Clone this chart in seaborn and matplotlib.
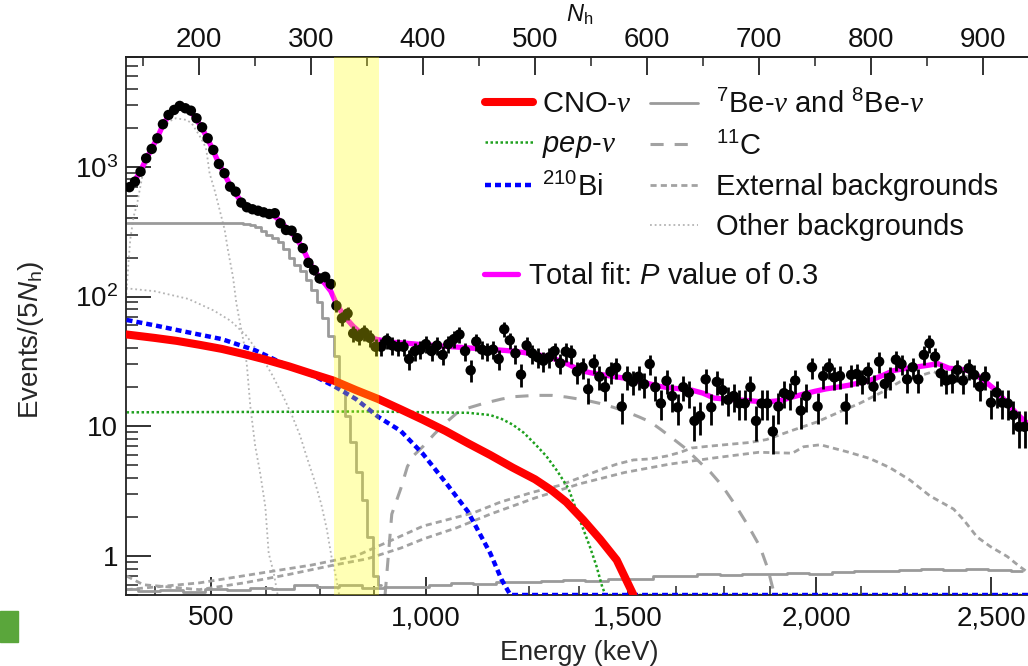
import numpy as np
import matplotlib
matplotlib.use("Agg")
import matplotlib.pyplot as plt
from matplotlib.lines import Line2D
from matplotlib.patches import Rectangle
from matplotlib.ticker import NullFormatter
import seaborn as sns

# ---------------------------------------------------------------------------
# Measured spectrum, events per 5 N_h bin (bin centres start at 137.5)
# ---------------------------------------------------------------------------
bin_start = 137.5
bin_width = 5.0
data_counts = [
    697, 769, 918, 1164, 1374, 1660, 2130, 2512, 2747, 2950,
    2830, 2711, 2370, 2018, 1660, 1350, 1052, 893, 703, 644,
    530, 488, 471, 459, 446, 433, 439, 367, 326, 322,
    282, 236, 182, 160, 138, 142, 125, 85, 68, 74,
    52, 49, 53, 48, 41, 41, 46, 42, 41, 41,
    33, 38, 39, 43, 38, 42, 35.5, 43, 47, 51,
    38, 27, 45, 39, 38, 39, 33, 56, 46, 36.5,
    25, 42, 36.5, 34, 32, 34, 38, 30.6, 37.6, 36.5,
    26.4, 28.5, 19.3, 30.6, 24.1, 20, 26.4, 28.3, 14.2, 24.1,
    22, 24.1, 21.1, 30.2, 20, 15, 22.4, 17.1, 14, 20,
    18.2, 11, 12, 23, 14, 22, 19, 16, 17.1, 15,
    15, 20, 11, 15, 15, 9.1, 14.2, 18, 17.4, 22.5,
    13.2, 17.1, 28.5, 14.2, 24.4, 28.5, 23.8, 24.4, 14.2, 24.9,
    25.3, 22.5, 26.4, 20.2, 31.5, 21.2, 23.8, 32.6, 30.2, 23,
    28.5, 23, 35.5, 43.6, 34.4, 25.6, 22.5, 23, 27.2, 22.5,
    28, 24.9, 20.2, 24.1, 15.2, 18.2, 15.2, 15, 12.2, 9.9,
    9.9,
]

# ---------------------------------------------------------------------------
# Fit components (N_h, events per 5 N_h)
# ---------------------------------------------------------------------------
total_nh = [137.5, 142.5, 147.5, 152.5, 157.5, 162.5, 167.5, 172.5, 177.5, 182.5,
            187.5, 192.5, 197.5, 202.5, 207.5, 212.5, 217.5, 222.5, 227.5, 232.5,
            237.5, 242.5, 247.5, 252.5, 257.5, 262.5, 267.5, 272.5, 277.5, 282.5,
            287.5, 292.5, 297.5, 302.5, 307.5, 312.5, 317.5, 322.5, 327.5, 332.5,
            337.5, 342.5, 347.5, 352.5, 357.5,
            370, 380, 390, 400, 410, 420, 430, 440, 450, 460, 470, 480, 490, 500,
            510, 520, 530, 540, 550, 560, 570, 580, 590, 600, 610, 620, 630, 640,
            650, 660, 670, 680, 690, 700, 710, 720, 730, 740, 750, 760, 770, 780,
            790, 800, 810, 820, 830, 840, 850, 860, 870, 880, 890, 900, 910, 920,
            930, 940]
total_fit = [700, 790, 930, 1150, 1380, 1680, 2100, 2480, 2760, 2900,
             2840, 2650, 2330, 1980, 1640, 1330, 1060, 880, 720, 620,
             540, 495, 470, 455, 445, 432, 415, 380, 340, 310,
             275, 235, 190, 160, 140, 125, 110, 88, 75, 66,
             59, 54, 51, 49, 47,
             44.5, 44, 43.3, 42.5, 42, 41.3, 40.8, 40.2, 39.7, 39.2, 38.6, 38, 37, 36,
             34.5, 32.5, 30, 27, 25.8, 25, 24.2, 23.5, 22.5, 21.5, 20.4, 19.8, 19.4, 19,
             18, 16.5, 16.2, 16, 15.8, 15.5, 15.5, 15.8, 16.8, 17.7, 18.6, 19.4, 20, 20.7,
             21.6, 22.7, 24.5, 26.8, 27.8, 28.6, 29.4, 30.4, 28, 27.6, 26.5, 23, 19.5, 15.8,
             12.6, 10.5]

cno_nh = [135, 160, 180, 200, 220, 240, 260, 280, 300, 320, 340, 360, 380,
          400, 420, 440, 460, 480, 500, 515, 528, 543, 558, 573, 582, 588]
cno_val = [51, 48, 45.5, 42.5, 39.5, 36, 32.5, 29, 25.5, 22.5, 19, 16.2, 13.5,
           11.2, 9.2, 7.4, 6.0, 4.8, 3.9, 3.2, 2.6, 1.9, 1.35, 0.93, 0.64, 0.5]

pep_nh = [135, 250, 350, 440, 460, 470, 480, 490, 500, 510, 520, 530, 540,
          549, 555, 560, 563, 945]
pep_val = [12.8, 12.9, 13.0, 12.7, 12.2, 11.4, 10.3, 8.9, 7.3, 5.9, 4.5, 3.3, 1.9,
           1.18, 0.83, 0.58, 0.5, 0.5]

bi_nh = [135, 160, 190, 220, 250, 280, 300, 320, 340, 360, 380, 400, 420,
         440, 460, 470, 478, 945]
bi_val = [66, 60, 53, 47, 38.5, 29, 25, 20.5, 16.2, 11.8, 9.2, 6.1, 3.7,
          2.2, 1.05, 0.66, 0.5, 0.5]

be7_nh = [135, 160, 185, 210, 235, 242.5, 247.5, 252.5, 257.5, 262.5, 267.5,
          272.5, 277.5, 282.5, 287.5, 292.5, 297.5, 302.5, 307.5, 312.5, 317.5,
          322.5, 327.5, 332.5, 337.5, 342.5, 347.5, 352.5, 357.5, 362.5]
be7_val = [368, 367, 366, 367, 366, 364, 359, 345, 322, 300, 283,
           265, 232, 198, 175, 157, 135, 112, 90, 68, 50,
           35, 21, 12, 7.5, 4.4, 2.7, 1.4, 0.7, 0.6]

b8_nh = [135, 155, 175, 195, 215, 235, 255, 275, 295, 315, 335, 355, 375, 395,
         415, 435, 455, 475, 495, 515, 535, 555, 575, 595, 615, 635, 655, 675,
         695, 715, 735, 755, 775, 795, 815, 835, 855, 875, 895, 915, 935]
b8_val = [0.56, 0.54, 0.55, 0.53, 0.56, 0.55, 0.57, 0.56, 0.6, 0.58, 0.6, 0.57,
          0.58, 0.58, 0.6, 0.62, 0.61, 0.63, 0.63, 0.64, 0.65, 0.64, 0.66, 0.67,
          0.7, 0.7, 0.72, 0.71, 0.72, 0.73, 0.74, 0.73, 0.75, 0.76, 0.77, 0.78,
          0.79, 0.78, 0.79, 0.78, 0.77]

c11_nh = [366, 372, 380, 386, 392, 400, 410, 420, 430, 440, 454, 470, 481, 500,
          515, 528, 545, 558, 570, 582, 593, 603, 612, 621, 634, 648, 657, 667,
          679, 691, 701, 708, 714]
c11_val = [0.5, 2.1, 3.3, 4.9, 6.0, 7.0, 8.7, 10.6, 12.6, 13.8, 15, 16.2, 16.9,
           17.3, 17.3, 16.8, 15.9, 15, 14.0, 12.9, 11.8, 10.8, 9.5, 8.3, 6.8,
           5.2, 4.4, 3.5, 2.47, 1.68, 1.18, 0.8, 0.5]

ext_tl_nh = [135, 200, 260, 300, 340, 370, 400, 445, 469, 498, 522, 543, 558,
             573, 588, 603, 618, 630, 640, 654, 677, 692, 707, 730, 752, 773,
             790, 811, 826, 844, 856, 865, 880, 895, 907, 921, 933, 945]
ext_tl_val = [0.55, 0.62, 0.75, 0.85, 1.0, 1.3, 1.7, 2.15, 2.6, 3.1, 3.5, 4.1,
              4.6, 5.1, 5.5, 5.6, 5.9, 6.3, 6.8, 7.0, 7.3, 7.5, 7.9, 9.3, 10.8,
              13, 15, 18.5, 22, 24.5, 26.4, 24.5, 24.5, 23.8, 20.2, 15.5, 11.5, 9.5]

ext_bi_nh = [135, 150, 200, 240, 280, 320, 350, 380, 400, 430, 460, 500, 540,
             580, 620, 660, 700, 730, 740, 755, 779, 799, 817, 835, 853, 874,
             883, 895, 907, 922, 933, 945]
ext_bi_val = [0.7, 0.6, 0.55, 0.62, 0.72, 0.85, 0.95, 1.15, 1.35, 1.65, 2.1,
              2.8, 3.6, 4.4, 5.1, 5.7, 6.3, 6.2, 6.95, 7.2, 6.35, 5.65, 4.8,
              3.85, 2.9, 2.3, 1.9, 1.4, 1.18, 0.99, 0.83, 0.7]

po_nh = [134.5, 135.2, 136.7, 138.3, 141.3, 144.5, 149, 155, 164, 173, 179,
         188.7, 193.3, 200, 204, 206.3, 209.2, 213.7, 218.2, 222.7, 225.6, 230.1,
         233.1, 237.6, 240.5, 242.6, 245.6, 250, 254.5, 259, 262, 266.5, 270]
po_val = [95, 119, 181, 275, 413, 523, 840, 1190, 1800, 2240, 2370,
          2300, 2160, 1750, 1520, 1350, 890, 660, 465, 326, 228, 142,
          89, 55, 41, 29, 14.2, 7.0, 4.3, 2.4, 1.05, 0.74, 0.5]

kr_nh = [134.5, 138, 160, 190, 213, 228, 242, 255, 265, 275, 283, 290, 296,
         303, 309, 314, 318, 322, 325]
kr_val = [117, 115, 110, 96, 78, 65, 50, 35, 25, 17, 12, 8.5, 5.8, 3.8, 2.5,
          1.6, 1.0, 0.7, 0.5]

# Axis ticks
energy_major = [500, 1000, 1500, 2000, 2500]
energy_major_labels = ["500", "1,000", "1,500", "2,000", "2,500"]
energy_minor = [375, 625, 750, 875, 1125, 1250, 1375, 1625, 1750, 1875,
                2125, 2250, 2375, 2625]
nh_major = [200, 300, 400, 500, 600, 700, 800, 900]
nh_minor = [150, 250, 350, 450, 550, 650, 750, 850, 950]
y_major = [1, 10, 100, 1000]
y_major_labels = ["1", "10", "$10^2$", "$10^3$"]

# Highlighted energy window (in N_h)
window_nh = (320.5, 360.5)


def energy_to_nh(e):
    """Quenched light yield: energy in keV -> number of hit PMTs."""
    e = np.asarray(e, dtype=float)
    return 6.1 + 0.4208 * e - 2.41e-5 * e ** 2


# ---------------------------------------------------------------------------
sns.set_theme(style="white")
plt.rcParams.update({
    "font.family": ["Liberation Sans", "DejaVu Sans"],
    "mathtext.fontset": "custom",
    "mathtext.rm": "Liberation Sans",
    "mathtext.it": "Liberation Sans:italic",
    "mathtext.bf": "Liberation Sans:bold",
    "mathtext.sf": "Liberation Serif:italic",
    "axes.edgecolor": "#222222",
    "axes.linewidth": 1.3,
    "text.color": "#111111",
    "xtick.color": "#222222",
    "ytick.color": "#222222",
    "xtick.labelcolor": "#111111",
    "ytick.labelcolor": "#111111",
})

W, H = 1028, 666
fig = plt.figure(figsize=(W / 100, H / 100), dpi=100)
ax = fig.add_axes([126 / W, (H - 595) / H, (1033 - 126) / W, (595 - 57) / H])
ax.set_yscale("log")
ax.set_xlim(134.5, 945.0)
ax.set_ylim(0.5, 7030)
for side in ("left", "bottom", "top", "right"):
    ax.spines[side].set_visible(True)

GREY_SOLID = "#9a9a9a"
GREY_DASH = "#a2a2a2"
GREY_DOT = "#b4b4b4"

styles = {
    "other": dict(color=GREY_DOT, lw=1.3, linestyle=(0, (1.0, 1.6)), zorder=2),
    "ext": dict(color=GREY_DASH, lw=2.0, linestyle=(0, (2.2, 1.5)), zorder=2.1),
    "c11": dict(color=GREY_DASH, lw=2.2, linestyle=(0, (4.3, 3.6)), zorder=2.2),
    "be": dict(color=GREY_SOLID, lw=2.0, linestyle="-", zorder=2.3),
    "pep": dict(color="#1ea01e", lw=1.8, linestyle=(0, (1.0, 1.0)), zorder=2.5),
    "bi": dict(color="#0000ff", lw=3.2, linestyle=(0, (1.35, 0.9)), zorder=2.6),
    "cno": dict(color="#ff0000", lw=5.8, linestyle="-", zorder=2.8),
    "total": dict(color="#ff00ff", lw=3.8, linestyle="-", zorder=3),
}


def draw(nh, val, style, **extra):
    kw = dict(styles[style])
    kw.update(extra)
    sns.lineplot(x=nh, y=val, ax=ax, sort=False, estimator=None,
                 legend=False, **kw)


draw(po_nh, po_val, "other")
draw(kr_nh, kr_val, "other")
draw(ext_tl_nh, ext_tl_val, "ext")
draw(ext_bi_nh, ext_bi_val, "ext")
draw(c11_nh, c11_val, "c11")
draw(b8_nh, b8_val, "be", drawstyle="steps-mid")
draw(be7_nh, be7_val, "be", drawstyle="steps-mid")
draw(pep_nh, pep_val, "pep")
draw(bi_nh, bi_val, "bi")
draw(cno_nh, cno_val, "cno")
draw(total_nh, total_fit, "total")

# Data with Poisson uncertainties
nh_centres = bin_start + bin_width * np.arange(len(data_counts))
counts = np.asarray(data_counts, dtype=float)
ax.errorbar(nh_centres, counts, yerr=np.sqrt(counts), fmt="none",
            ecolor="black", elinewidth=2.0, capsize=0, zorder=5)
sns.scatterplot(x=nh_centres, y=counts, ax=ax, color="black", s=56,
                edgecolor="none", linewidth=0, zorder=6, legend=False)

# Energy window
ax.axvspan(*window_nh, color="#ffff00", alpha=0.29, lw=0, zorder=10)

# Ticks: energy scale at the bottom, N_h on top
ax.set_xticks(energy_to_nh(energy_major), labels=energy_major_labels)
ax.set_xticks(energy_to_nh(energy_minor), minor=True)
ax.tick_params(axis="x", which="major", direction="in", length=13, width=1.3,
               labelsize=20, pad=7.5, top=False, bottom=True)
ax.tick_params(axis="x", which="minor", direction="in", length=6.5, width=1.1,
               top=False, bottom=True)

ax.set_yticks(y_major, labels=y_major_labels)
ax.yaxis.set_minor_formatter(NullFormatter())
ax.tick_params(axis="y", which="major", direction="in", length=18, width=1.3,
               labelsize=20, pad=5.5, left=True, right=False)
ax.tick_params(axis="y", which="minor", direction="in", length=8.6, width=1.1,
               left=True, right=False)

top = ax.secondary_xaxis("top")
top.set_xticks(nh_major)
top.set_xticks(nh_minor, minor=True)
top.tick_params(which="major", direction="in", length=13, width=1.3,
                labelsize=20, pad=3)
top.tick_params(which="minor", direction="in", length=6.5, width=1.1)

ax.set_xlabel("Energy (keV)", fontsize=19.5)
ax.xaxis.set_label_coords(0.5, -0.083)
ax.set_ylabel("Events/(5$N_\\mathrm{h}$)", fontsize=20)
ax.yaxis.set_label_coords(-0.088, 0.474)
fig.text(580 / W, (H - 21) / H, "$N_\\mathrm{h}$", fontsize=17,
         ha="center", va="baseline")

# Legend
nu = "$\\mathsf{\\nu}$"


def handle(style):
    return Line2D([], [], **{k: v for k, v in styles[style].items()
                            if k != "zorder"})


common = dict(frameon=False, loc="upper left", borderpad=0, borderaxespad=0,
              fontsize=21, labelspacing=0.42, bbox_transform=fig.transFigure)
leg1 = fig.legend([handle("cno"), handle("pep"), handle("bi")],
                  ["CNO-" + nu, "$pep$-" + nu, "$^{210}$Bi"],
                  bbox_to_anchor=(485 / W, (H - 90) / H), handlelength=1.65,
                  handletextpad=0.31, **common)
leg2 = fig.legend([handle("be"), handle("c11"), handle("ext"), handle("other")],
                  ["$^{7}$Be-" + nu + " and $^{8}$Be-" + nu, "$^{11}$C",
                   "External backgrounds", "Other backgrounds"],
                  bbox_to_anchor=(650 / W, (H - 90) / H), handlelength=1.65,
                  handletextpad=0.62, **common)
leg3 = fig.legend([handle("total")], ["Total fit: $P$ value of 0.3"],
                  bbox_to_anchor=(484 / W, (H - 262) / H), handlelength=1.17,
                  handletextpad=0.34, **common)

# Corner marker
fig.patches.append(Rectangle((0, (H - 642) / H), 18 / W, 31 / H,
                             transform=fig.transFigure, color="#5aa63b",
                             zorder=0))

fig.savefig("out.png", dpi=100)
